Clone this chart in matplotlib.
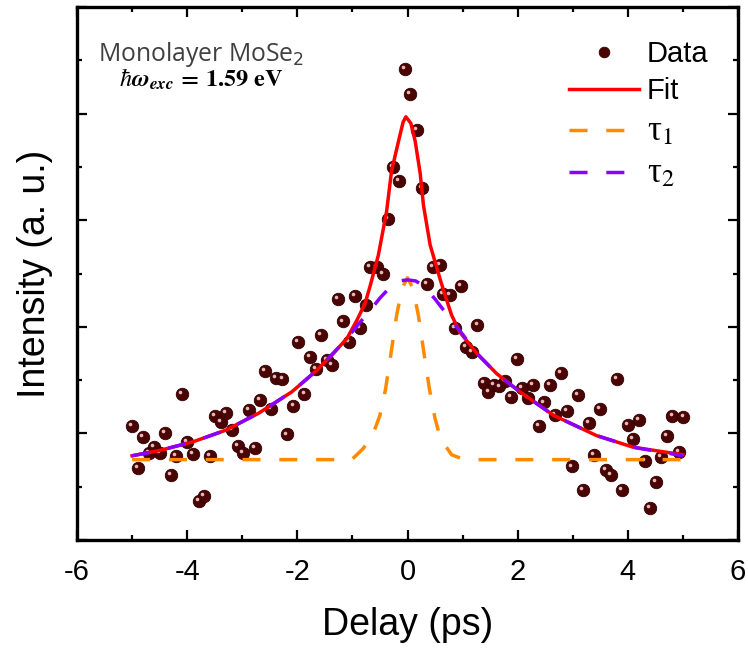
import numpy as np
import matplotlib
matplotlib.use("Agg")
import matplotlib.pyplot as plt
from matplotlib.ticker import MultipleLocator, NullFormatter
from matplotlib.transforms import offset_copy

# ---------------- data ----------------
delay = [-5.01, -4.90, -4.81, -4.70, -4.60, -4.49, -4.40, -4.29, -4.20, -4.09,
         -4.00, -3.89, -3.79, -3.69, -3.59, -3.49, -3.39, -3.29, -3.19, -3.08,
         -2.99, -2.88, -2.77, -2.68, -2.58, -2.48, -2.39, -2.27, -2.18, -2.07,
         -1.98, -1.87, -1.77, -1.67, -1.57, -1.47, -1.37, -1.27, -1.17, -1.06,
         -0.95, -0.86, -0.76, -0.68, -0.56, -0.44, -0.35, -0.26, -0.15, -0.05,
         0.05, 0.17, 0.26, 0.36, 0.47, 0.59, 0.65, 0.77, 0.86, 0.97,
         1.06, 1.17, 1.27, 1.38, 1.47, 1.57, 1.67, 1.77, 1.88, 1.98,
         2.07, 2.18, 2.28, 2.39, 2.48, 2.59, 2.68, 2.79, 2.89, 2.99,
         3.09, 3.19, 3.30, 3.39, 3.50, 3.60, 3.69, 3.80, 3.90, 4.00,
         4.10, 4.20, 4.31, 4.40, 4.51, 4.61, 4.71, 4.81, 4.92, 5.01]
intensity = [1.07, 0.68, 0.97, 0.82, 0.87, 0.82, 1.00, 0.61, 0.79, 1.37,
             0.92, 0.81, 0.37, 0.41, 0.79, 1.16, 1.11, 1.19, 1.03, 0.88,
             0.82, 1.22, 0.86, 1.31, 1.59, 1.23, 1.52, 1.51, 0.99, 1.26,
             1.86, 1.37, 1.72, 1.60, 1.92, 1.69, 1.64, 2.26, 2.05, 1.86,
             2.29, 1.99, 2.20, 2.56, 2.56, 2.50, 3.01, 3.50, 3.37, 4.42,
             4.18, 3.85, 3.30, 2.40, 2.56, 2.58, 2.31, 2.30, 1.99, 2.38,
             1.81, 1.76, 2.02, 1.47, 1.39, 1.45, 1.44, 1.49, 1.34, 1.70,
             1.43, 1.33, 1.45, 1.07, 1.29, 1.45, 1.17, 1.57, 1.21, 0.69,
             1.36, 0.47, 1.10, 0.80, 1.23, 0.66, 0.61, 1.51, 0.47, 1.08,
             0.95, 1.13, 0.74, 0.30, 0.54, 0.78, 0.98, 1.16, 0.83, 1.15]

fit_x = [-5.0, -4.5, -3.9, -3.3, -2.7, -2.1, -1.65, -1.35, -1.1, -0.92,
         -0.77, -0.68, -0.53, -0.38, -0.29, -0.15, -0.08, -0.03, 0.06, 0.14,
         0.23, 0.29, 0.41, 0.59, 0.68, 0.80, 0.95, 1.26, 1.62, 2.04,
         2.65, 3.43, 4.10, 5.0]
fit_y = [0.79, 0.84, 0.92, 1.03, 1.19, 1.39, 1.59, 1.75, 1.89, 2.06,
         2.22, 2.38, 2.67, 3.08, 3.46, 3.77, 3.92, 3.97, 3.91, 3.74,
         3.44, 3.14, 2.77, 2.45, 2.30, 2.11, 1.95, 1.75, 1.56, 1.39,
         1.17, 0.98, 0.87, 0.80]

tau1_x = [-5.0, -1.2, -1.0, -0.8, -0.6, -0.5, -0.4, -0.3, -0.2, -0.1,
          0.0, 0.1, 0.2, 0.3, 0.4, 0.5, 0.6, 0.8, 1.0, 1.2, 5.0]
tau1_y = [0.754, 0.754, 0.76, 0.86, 1.03, 1.17, 1.41, 1.75, 2.10, 2.36,
          2.46, 2.36, 2.10, 1.75, 1.41, 1.14, 0.95, 0.80, 0.76, 0.754, 0.754]

tau2_x = [-5.0, -4.5, -3.9, -3.3, -2.7, -2.1, -1.65, -1.35, -1.1, -0.9,
          -0.7, -0.5, -0.3, -0.15, 0.0, 0.15, 0.3, 0.5, 0.65, 0.86,
          1.0, 1.26, 1.62, 2.04, 2.65, 3.43, 4.10, 5.0]
tau2_y = [0.79, 0.84, 0.92, 1.03, 1.19, 1.39, 1.59, 1.75, 1.89, 2.02,
          2.14, 2.27, 2.38, 2.43, 2.44, 2.43, 2.38, 2.26, 2.16, 2.02,
          1.93, 1.75, 1.56, 1.39, 1.17, 0.98, 0.87, 0.79]

xticks = [-6, -4, -2, 0, 2, 4, 6]

# ---------------- figure ----------------
plt.rcParams['font.family'] = ['Liberation Sans', 'DejaVu Sans']
fig = plt.figure(figsize=(7.48, 6.50), dpi=100)
ax = fig.add_axes([77/748, 1-540/650, (738-77)/748, (540-7)/650])

dash = (0, (5.2, 5.4))
ax.plot(delay, intensity, 'o', ms=9, color='#4a0404', mec='#300000', mew=0.6,
        zorder=2, label='Data')
hl = offset_copy(ax.transData, fig=fig, x=-1.4, y=1.4, units='points')
ax.plot(delay, intensity, 'o', ms=2.6, color='#e6b8b8', mew=0, zorder=2.5,
        transform=hl)

ax.plot(fit_x, fit_y, '-', color='#ff0000', lw=2.5, zorder=3, label='Fit')
ax.plot(tau1_x, tau1_y, color='#ff8a00', lw=2.5, ls=dash, zorder=4,
        label='τ$_1$')
ax.plot(tau2_x, tau2_y, color='#8a00ff', lw=2.5, ls=dash, zorder=5,
        label='τ$_2$')

ax.set_xlim(-6, 6)
ax.set_ylim(0, 5.0)
ax.set_xticks(xticks)
ax.set_xticklabels([str(t) for t in xticks])
ax.xaxis.set_minor_locator(MultipleLocator(1))
ax.yaxis.set_major_locator(MultipleLocator(1))
ax.yaxis.set_minor_locator(MultipleLocator(0.5))
ax.yaxis.set_major_formatter(NullFormatter())
ax.tick_params(which='both', direction='in', top=True, right=True, width=1.6)
ax.tick_params(which='major', length=7.5)
ax.tick_params(which='minor', length=3.8)
ax.tick_params(axis='x', labelsize=21, pad=13)
for s in ax.spines.values():
    s.set_linewidth(2.4)

ax.set_xlabel('Delay (ps)', fontsize=27, labelpad=15)
ax.set_ylabel('Intensity (a. u.)', fontsize=27, labelpad=14)

leg = ax.legend(loc='upper right', bbox_to_anchor=(0.955, 0.938), frameon=False,
                fontsize=21, handlelength=2.4, handletextpad=0.25,
                labelspacing=0.32, borderaxespad=0.0, borderpad=0.0,
                markerscale=0.85)
for t in leg.get_texts()[2:]:
    t.set_fontfamily(['Liberation Serif'])
    t.set_math_fontfamily('stix')
    t.set_fontsize(25)

ax.text(0.187, 0.899, 'Monolayer MoSe$_2$', transform=ax.transAxes,
        ha='center', va='baseline', fontsize=17.8, color='#404040',
        family=['Open Sans', 'DejaVu Sans'], math_fontfamily='dejavusans')
ax.text(0.187, 0.850, r'$\hbar\mathbfit{\omega_{exc}}\,\mathbf{=\,1.59\ eV}$',
        transform=ax.transAxes, ha='center', va='baseline', fontsize=17.5,
        color='black', math_fontfamily='stix')

fig.savefig('out.png', dpi=100)
